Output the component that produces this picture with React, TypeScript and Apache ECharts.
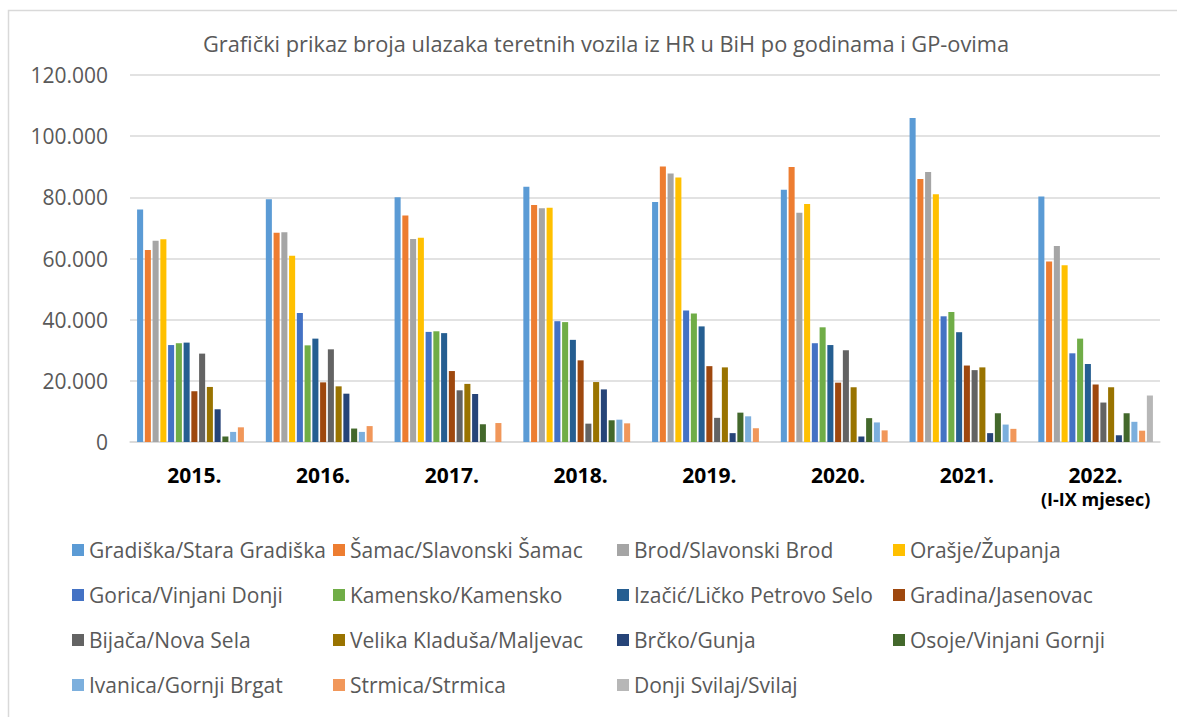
import React, { useEffect, useRef } from "react";
import * as echarts from "echarts";

const years = ["2015.", "2016.", "2017.", "2018.", "2019.", "2020.", "2021.", "2022."];
const yTicks = [0, 20000, 40000, 60000, 80000, 100000, 120000];

const gradiska = [76000, 79400, 80000, 83500, 78500, 82500, 105900, 80300];
const samac = [62800, 68400, 74100, 77500, 90100, 89900, 86000, 59000];
const brod = [65800, 68600, 66400, 76400, 87800, 75000, 88300, 64100];
const orasje = [66300, 60900, 66800, 76600, 86500, 77800, 81000, 57800];
const gorica = [31700, 42200, 36000, 39500, 43000, 32300, 41100, 29000];
const kamensko = [32300, 31600, 36200, 39200, 42000, 37500, 42500, 33800];
const izacic = [32500, 33800, 35600, 33400, 37800, 31700, 35900, 25500];
const gradina = [16600, 19500, 23200, 26700, 24800, 19400, 25000, 18800];
const bijaca = [28900, 30300, 16900, 6000, 7900, 30000, 23500, 12900];
const velikaKladusa = [18000, 18200, 19000, 19600, 24400, 17900, 24400, 17900];
const brcko = [10700, 15800, 15700, 17200, 2900, 1800, 2900, 2200];
const osoje = [1800, 4400, 5800, 7100, 9600, 7800, 9400, 9400];
const ivanica = [3300, 3300, null, 7300, 8400, 6400, 5700, 6600];
const strmica = [4800, 5200, 6200, 6100, 4500, 3800, 4300, 3700];
const donjiSvilaj = [null, null, null, null, null, null, null, 15200];

const seriesNames = [
  "Gradiška/Stara Gradiška",
  "Šamac/Slavonski Šamac",
  "Brod/Slavonski Brod",
  "Orašje/Županja",
  "Gorica/Vinjani Donji",
  "Kamensko/Kamensko",
  "Izačić/Ličko Petrovo Selo",
  "Gradina/Jasenovac",
  "Bijača/Nova Sela",
  "Velika Kladuša/Maljevac",
  "Brčko/Gunja",
  "Osoje/Vinjani Gornji",
  "Ivanica/Gornji Brgat",
  "Strmica/Strmica",
  "Donji Svilaj/Svilaj",
];
const seriesData = [
  gradiska, samac, brod, orasje, gorica, kamensko, izacic, gradina,
  bijaca, velikaKladusa, brcko, osoje, ivanica, strmica, donjiSvilaj,
];
const colors = [
  "#5B9BD5", "#ED7D31", "#A5A5A5", "#FFC000", "#4472C4", "#70AD47", "#255E91",
  "#9E480E", "#636363", "#997300", "#264478", "#43682B", "#7CAFDD", "#F1975A", "#B7B7B7",
];

const FONT = "'Open Sans', 'Noto Sans', sans-serif";

export default function App() {
  const ref = useRef<HTMLDivElement>(null);
  useEffect(() => {
    document.body.style.margin = "0";
    if (!ref.current) return;
    const chart = echarts.init(ref.current, null, { renderer: "svg" });
    const legendCols = [
      { left: 72, idx: [0, 4, 8, 12] },
      { left: 333, idx: [1, 5, 9, 13] },
      { left: 617, idx: [2, 6, 10, 14] },
      { left: 893, idx: [3, 7, 11] },
    ];
    chart.setOption({
      animation: false,
      color: colors,
      title: {
        text: "Grafički prikaz broja ulazaka teretnih vozila iz HR u BiH po godinama i GP-ovima",
        left: 203,
        top: 32,
        padding: 0,
        textStyle: { fontFamily: FONT, fontSize: 21.8, fontWeight: "normal", color: "#595959" },
      },
      graphic: [
        {
          type: "rect",
          shape: { x: 8.5, y: 10.5, width: 1300, height: 900 },
          style: { fill: "none", stroke: "#d9d9d9", lineWidth: 1.5 },
          silent: true,
        },
      ],
      legend: legendCols.map((c) => ({
        orient: "vertical",
        left: c.left,
        top: 539,
        padding: 0,
        icon: "rect",
        itemWidth: 12,
        itemHeight: 12,
        itemGap: 23,
        textStyle: { fontFamily: FONT, fontSize: 21, color: "#595959", lineHeight: 22 },
        data: c.idx.map((i) => seriesNames[i]),
      })),
      grid: { left: 130, right: 17, top: 75, bottom: 275, containLabel: false },
      xAxis: {
        type: "category",
        data: years,
        axisLine: { show: true, lineStyle: { color: "#d9d9d9", width: 1.5 } },
        axisTick: { show: false },
        axisLabel: {
          margin: 22,
          interval: 0,
          formatter: (v: string) => (v === "2022." ? "{a|2022.}\n{b|(I-IX mjesec)}" : "{a|" + v + "}"),
          rich: {
            a: { fontFamily: FONT, fontSize: 21, fontWeight: "bold", color: "#000", lineHeight: 22 },
            b: { fontFamily: FONT, fontSize: 18, fontWeight: "bold", color: "#000", lineHeight: 26 },
          },
        },
      },
      yAxis: {
        type: "value",
        min: yTicks[0],
        max: yTicks[yTicks.length - 1],
        interval: 20000,
        axisLine: { show: false },
        axisTick: { show: false },
        splitLine: { lineStyle: { color: "#d9d9d9", width: 1.5 } },
        axisLabel: {
          margin: 22,
          fontFamily: FONT,
          fontSize: 21,
          color: "#595959",
          formatter: (v: number) => String(v).replace(/\B(?=(\d{3})+(?!\d))/g, "."),
        },
      },
      series: seriesNames.map((name, i) => ({
        name,
        type: "bar",
        data: seriesData[i],
        barGap: "28%",
        barCategoryGap: "11%",
        itemStyle: { color: colors[i] },
      })),
    });
    return () => chart.dispose();
  }, []);
  return <div ref={ref} style={{ width: 1177, height: 717 }} />;
}
